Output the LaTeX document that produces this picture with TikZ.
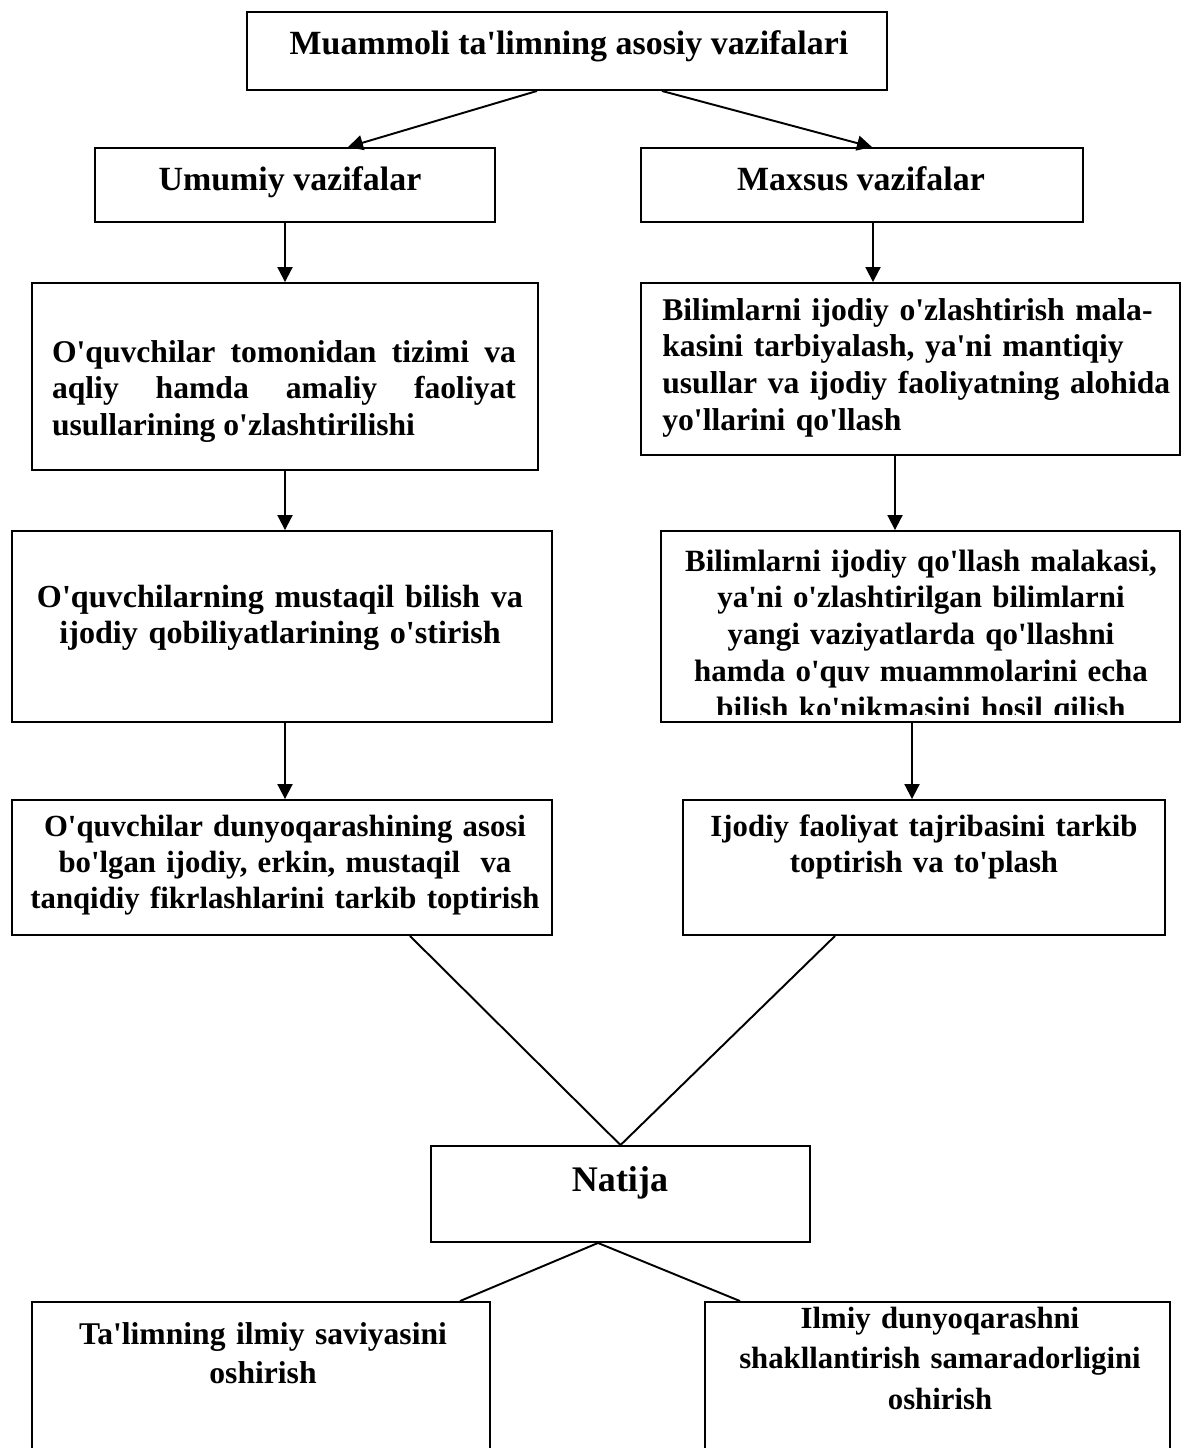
\documentclass[tikz,border=0pt]{standalone}
\usepackage{fontspec}
\setmainfont{Liberation Serif}[Ligatures=TeXOff]
\usepackage{tikz}
\usetikzlibrary{
    arrows.meta,
    positioning
}
\tikzset{
    % Plain rectangle frame, text is set separately
    box/.style={
        rectangle,
        draw=black,
        line width=1.1pt,
        inner sep=0pt,
    },
    % Bold text inside the frames
    box text/.style={
        font=\fontsize{18}{21}\selectfont\bfseries,
        inner sep=0pt,
        align=center,
    },
    head text/.style={
        box text,
        font=\fontsize{19.3}{22}\selectfont\bfseries,
    },
    big text/.style={
        box text,
        font=\fontsize{17.5}{20.5}\selectfont\bfseries,
    },
    % Arrow with filled head
    arrow/.style={
        -{Triangle[length=0.3cm, width=0.3cm]},
        line width=1.1pt,
    },
    % Plain joining line
    joint/.style={
        line width=1.1pt,
    },
}

\begin{document}
\begin{tikzpicture}[x=0.02cm, y=-0.02cm]
    \useasboundingbox (0,0) rectangle (1181,1448);

    % frames
    \node (muammo) [box, minimum width=12.8cm, minimum height=1.56cm] at (567,51) {};
    \node (umumiy) [box, minimum width=8cm, minimum height=1.48cm] at (295,185) {};
    \node (maxsus) [box, minimum width=8.84cm, minimum height=1.48cm] at (862,185) {};
    \node (u_bilim) [box, minimum width=10.12cm, minimum height=3.74cm] at (285,376.5) {};
    \node (m_bilim) [box, minimum width=10.78cm, minimum height=3.44cm] at (910.5,369) {};
    \node (u_qobil) [box, minimum width=10.8cm, minimum height=3.82cm] at (282,626.5) {};
    \node (m_qollash) [box, minimum width=10.38cm, minimum height=3.82cm] at (920.5,626.5) {};
    \node (u_dunyo) [box, minimum width=10.8cm, minimum height=2.7cm] at (282,867.5) {};
    \node (m_tajriba) [box, minimum width=9.64cm, minimum height=2.7cm] at (924,867.5) {};
    \node (natija) [box, minimum width=7.58cm, minimum height=1.92cm] at (620.5,1194) {};
    \node (ilmiy_sav) [box, minimum width=9.16cm, minimum height=3.16cm] at (261,1381) {};
    \node (ilmiy_dun) [box, minimum width=9.3cm, minimum height=3.16cm] at (937.5,1381) {};

    % texts
    \node (muammo_t) [head text, anchor=base] at (569,54) {Muammoli ta'limning asosiy vazifalari};
    \node (umumiy_t) [head text, anchor=base] at (290,190) {Umumiy vazifalar};
    \node (maxsus_t) [head text, anchor=base] at (861,190) {Maxsus vazifalar};
    \node (u_bilim_t) [box text, anchor=base, text width=9.28cm, align=justify] at (284,362)
        {O'quvchilar tomonidan tizimi va\linebreak aqliy hamda amaliy faoliyat\linebreak usullarining o'zlashtirilishi};
    \node (m_bilim_t) [box text, anchor=base west, text width=10.3cm, align=left] at (662,320)
        {Bilimlarni ijodiy o'zlashtirish mala-\\kasini tarbiyalash, ya'ni mantiqiy\\usullar va ijodiy faoliyatning alohida\\yo'llarini qo'llash};
    \node (u_qobil_t) [box text, anchor=base, text width=10.4cm, font=\fontsize{18.3}{21}\selectfont\bfseries] at (280,607)
        {O'quvchilarning mustaqil bilish va\\ijodiy qobiliyatlarining o'stirish};
    \begin{scope}
        \clip (m_qollash.north west) rectangle ([yshift=0.16cm]m_qollash.south east);
        \node (m_qollash_t) [box text, anchor=base, text width=10.2cm, font=\fontsize{17.6}{21}\selectfont\bfseries] at (921,571)
            {Bilimlarni ijodiy qo'llash malakasi,\\ya'ni o'zlashtirilgan bilimlarni\\yangi vaziyatlarda qo'llashni\\hamda o'quv muammolarini echa\\bilish ko'nikmasini hosil qilish};
    \end{scope}
    \node (u_dunyo_t) [big text, anchor=base, text width=10.4cm] at (285,836)
        {O'quvchilar dunyoqarashining asosi\\bo'lgan ijodiy, erkin, mustaqil~ va\\tanqidiy fikrlashlarini tarkib toptirish};
    \node (m_tajriba_t) [big text, anchor=base, text width=9.4cm] at (924,836)
        {Ijodiy faoliyat tajribasini tarkib\\toptirish va to'plash};
    \node (natija_t) [box text, font=\fontsize{20.5}{24}\selectfont\bfseries, anchor=base] at (620,1191) {Natija};
    \node (ilmiy_sav_t) [big text, anchor=base, text width=9cm, font=\fontsize{18}{22.5}\selectfont\bfseries] at (263,1344)
        {Ta'limning ilmiy saviyasini\\oshirish};
    \node (ilmiy_dun_t) [big text, anchor=base, text width=9cm, font=\fontsize{17.5}{23.3}\selectfont\bfseries] at (940,1328)
        {Ilmiy dunyoqarashni\\shakllantirish samaradorligini\\oshirish};

    % connectors
    \draw [arrow] ([xshift=-0.6cm]muammo.south) -- ([xshift=1.06cm]umumiy.north);
    \draw [arrow] ([xshift=1.9cm]muammo.south) -- ([xshift=0.2cm]maxsus.north);
    \draw [arrow] ([xshift=-0.2cm]umumiy.south) -- (u_bilim.north);
    \draw [arrow] ([xshift=0.22cm]maxsus.south) -- ([xshift=-0.75cm]m_bilim.north);
    \draw [arrow] (u_bilim.south) -- ([xshift=0.06cm]u_qobil.north);
    \draw [arrow] ([xshift=-0.31cm]m_bilim.south) -- ([xshift=-0.51cm]m_qollash.north);
    \draw [arrow] ([xshift=0.06cm]u_qobil.south) -- ([xshift=0.06cm]u_dunyo.north);
    \draw [arrow] ([xshift=-0.17cm]m_qollash.south) -- ([xshift=-0.24cm]m_tajriba.north);
    \draw [joint] ([xshift=2.56cm]u_dunyo.south) -- (natija.north);
    \draw [joint] ([xshift=-1.78cm]m_tajriba.south) -- (natija.north);
    \draw [joint] ([xshift=-0.45cm]natija.south) -- ([xshift=3.98cm]ilmiy_sav.north);
    \draw [joint] ([xshift=-0.45cm]natija.south) -- ([xshift=-3.95cm]ilmiy_dun.north);
\end{tikzpicture}
\end{document}
